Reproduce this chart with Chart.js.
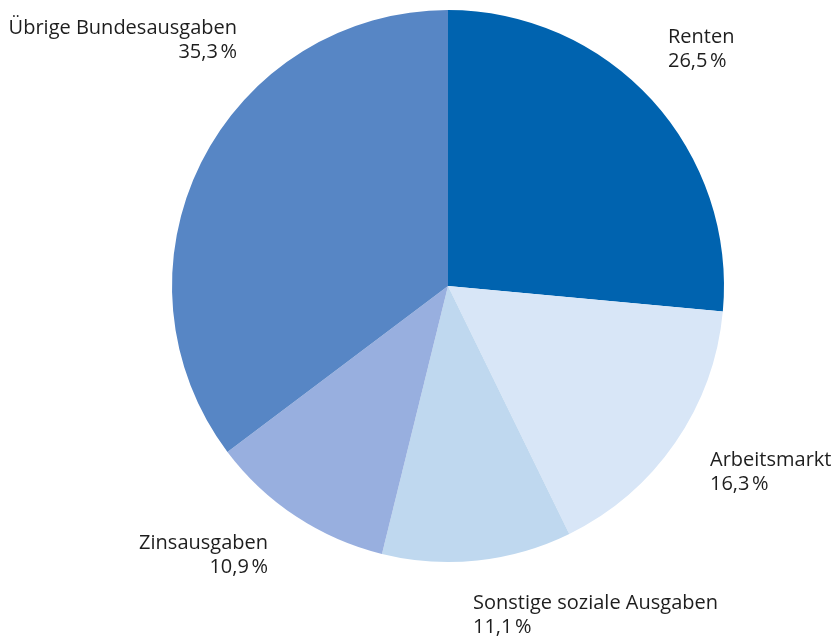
<!DOCTYPE html>
<html lang="de">
<head>
<meta charset="utf-8">
<title>Bundesausgaben</title>
<script src="https://cdn.jsdelivr.net/npm/chart.js@4/dist/chart.umd.min.js"></script>
<style>
  html, body { margin: 0; padding: 0; background: #ffffff; }
  #wrap { width: 834px; height: 636px; position: relative; }
</style>
</head>
<body>
<div id="wrap"><canvas id="chart" width="834" height="636"></canvas></div>
<script>
// Anteile an den Bundesausgaben (in Prozent)
const kategorien = ['Renten', 'Arbeitsmarkt', 'Sonstige soziale Ausgaben', 'Zinsausgaben', 'Übrige Bundesausgaben'];
const anteile = [26.5, 16.3, 11.1, 10.9, 35.3];
const farben = ['#0063af', '#d8e6f7', '#bfd8ef', '#98afdf', '#5786c5'];

// Beschriftung: x, y der ersten Zeile, Ausrichtung
const beschriftung = [
    { x: 668, y: 37, align: 'left' },
    { x: 710, y: 460, align: 'left' },
    { x: 473, y: 603, align: 'left' },
    { x: 268, y: 543, align: 'right' },
    { x: 237, y: 28, align: 'right' }
];

function formatProzent(wert) {
    return wert.toFixed(1).replace('.', ',') + '\u202F%';
}

const labelPlugin = {
    id: 'sliceLabels',
    afterDraw(chart) {
        const ctx = chart.ctx;
        ctx.save();
        ctx.font = '20px "Open Sans", sans-serif';
        ctx.fillStyle = '#1e1e1e';
        ctx.textBaseline = 'middle';
        kategorien.forEach((name, i) => {
            const pos = beschriftung[i];
            ctx.textAlign = pos.align;
            ctx.fillText(name, pos.x, pos.y);
            ctx.fillText(formatProzent(anteile[i]), pos.x, pos.y + 24);
        });
        ctx.restore();
    }
};

const ctx = document.getElementById('chart').getContext('2d');
new Chart(ctx, {
    type: 'pie',
    data: {
        labels: kategorien,
        datasets: [{
            data: anteile,
            backgroundColor: farben,
            borderWidth: 0
        }]
    },
    options: {
        responsive: false,
        animation: false,
        layout: {
            padding: { top: 10, bottom: 74, left: 172, right: 110 }
        },
        plugins: {
            legend: { display: false },
            tooltip: { enabled: false }
        }
    },
    plugins: [labelPlugin]
});
</script>
</body>
</html>
